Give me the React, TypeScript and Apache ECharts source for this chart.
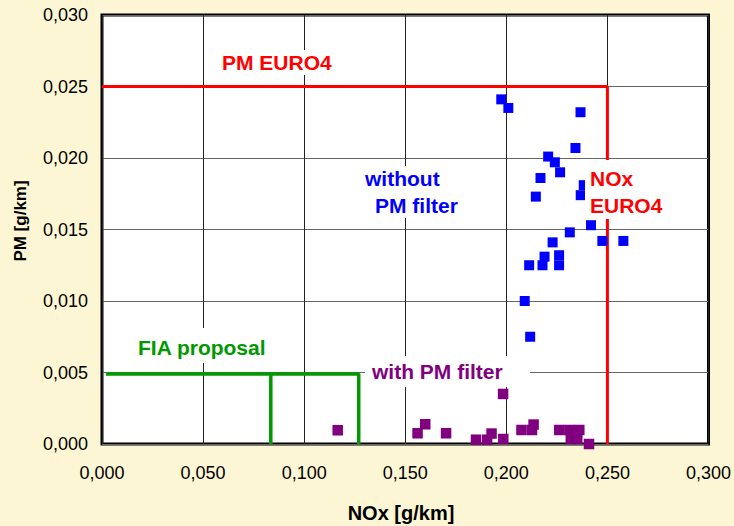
import { useEffect, useRef } from "react";
import * as echarts from "echarts";

// NOx [g/km] / PM [g/km] measurements without PM filter
const withoutFilterNOx = [0.1975, 0.201, 0.2367, 0.2342, 0.2207, 0.224, 0.2266, 0.2169, 0.2146, 0.2383, 0.2368, 0.2314, 0.2419, 0.2475, 0.2579, 0.2229, 0.2189, 0.2113, 0.2179, 0.2261, 0.2261, 0.2091, 0.2118];
const withoutFilterPM = [0.0241, 0.0235, 0.0232, 0.0207, 0.0201, 0.0197, 0.019, 0.0186, 0.0173, 0.0181, 0.0174, 0.0148, 0.0153, 0.0142, 0.0142, 0.0141, 0.0131, 0.0125, 0.0125, 0.0132, 0.0125, 0.01, 0.0075];

// measurements with PM filter
const withFilterNOx = [0.1166, 0.1561, 0.1599, 0.1702, 0.185, 0.1905, 0.1927, 0.1984, 0.1985, 0.2075, 0.2127, 0.2135, 0.2262, 0.2312, 0.2361, 0.2319, 0.2351, 0.2409];
const withFilterPM = [0.00096, 0.00075, 0.00138, 0.00075, 0.0003, 0.0003, 0.00073, 0.0035, 0.00035, 0.00098, 0.00098, 0.00136, 0.00098, 0.00098, 0.00098, 0.00035, 0.00035, 0.0];

// limit lines
const euro4LineNOx = [0, 0.25, 0.25];
const euro4LinePM = [0.025, 0.025, 0];
const fiaOuterNOx = [0.002, 0.127, 0.127];
const fiaOuterPM = [0.0049, 0.0049, 0];
const fiaInnerNOx = [0.0835, 0.0835];
const fiaInnerPM = [0.0049, 0];

// axes
const xAxisRange = [0, 0.3];
const xAxisStep = 0.05;
const yAxisRange = [0, 0.03];
const yAxisStep = 0.005;

const zip = (xs: number[], ys: number[]) => xs.map((x, i) => [x, ys[i]]);
const fmt = (v: number) => v.toFixed(3).replace(".", ",");

const FONT = '"Liberation Sans", Arial, sans-serif';

export default function App() {
  const ref = useRef<HTMLDivElement>(null);

  useEffect(() => {
    if (!ref.current) return;
    const chart = echarts.init(ref.current, undefined, { renderer: "svg" });

    const label = (text: string, x: number, y: number, fill: string, size = 21) => ({
      type: "text",
      x,
      y,
      z: 101,
      style: { text, fill, font: `bold ${size}px ${FONT}`, align: "left", verticalAlign: "middle" },
    });
    const box = (x: number, y: number, width: number, height: number) => ({
      type: "rect",
      z: 100,
      shape: { x, y, width, height },
      style: { fill: "#ffffff" },
    });

    chart.setOption({
      animation: false,
      backgroundColor: "#FDF6D5",
      grid: {
        left: 102,
        top: 15,
        width: 608,
        height: 429,
        show: true,
        backgroundColor: "#ffffff",
        borderColor: "#000000",
        borderWidth: 3,
      },
      xAxis: {
        type: "value",
        min: xAxisRange[0],
        max: xAxisRange[1],
        interval: xAxisStep,
        axisLine: { show: false },
        axisTick: { show: false },
        axisLabel: { formatter: fmt, color: "#000", fontSize: 18, fontFamily: FONT, margin: 20 },
        splitLine: { show: true, lineStyle: { color: "#222", width: 1 } },
      },
      yAxis: {
        type: "value",
        min: yAxisRange[0],
        max: yAxisRange[1],
        interval: yAxisStep,
        axisLine: { show: false },
        axisTick: { show: false },
        axisLabel: { formatter: fmt, color: "#000", fontSize: 18, fontFamily: FONT, margin: 14 },
        splitLine: { show: true, lineStyle: { color: "#666", width: 1 } },
      },
      series: [
        {
          type: "line",
          data: zip(euro4LineNOx, euro4LinePM),
          symbol: "none",
          lineStyle: { color: "#FF0000", width: 3 },
          z: 3,
        },
        {
          type: "line",
          data: zip(fiaOuterNOx, fiaOuterPM),
          symbol: "none",
          lineStyle: { color: "#009900", width: 3.5 },
          z: 3,
        },
        {
          type: "line",
          data: zip(fiaInnerNOx, fiaInnerPM),
          symbol: "none",
          lineStyle: { color: "#009900", width: 3.5 },
          z: 3,
        },
        {
          type: "scatter",
          data: zip(withoutFilterNOx, withoutFilterPM),
          symbol: "rect",
          symbolSize: 10,
          itemStyle: { color: "#0000FF", opacity: 1 },
          z: 4,
        },
        {
          type: "scatter",
          data: zip(withFilterNOx, withFilterPM),
          symbol: "rect",
          symbolSize: 10.5,
          itemStyle: { color: "#800080", opacity: 1 },
          z: 4,
        },
      ],
      graphic: {
        elements: [
          box(216, 50, 122, 25),
          label("PM EURO4", 222, 62, "#FF0000"),
          box(360, 166, 102, 52),
          label("without", 365, 178, "#0000FF"),
          label("PM filter", 375, 205, "#0000FF"),
          box(585, 160, 88, 59),
          label("NOx", 590, 178, "#FF0000"),
          label("EURO4", 590, 205, "#FF0000"),
          box(130, 328, 142, 35),
          label("FIA proposal", 138, 347, "#009900"),
          box(365, 356, 165, 31),
          label("with PM filter", 372, 371, "#800080"),
          {
            type: "text",
            x: 401,
            y: 513,
            z: 101,
            style: { text: "NOx [g/km]", fill: "#000", font: `bold 20px ${FONT}`, align: "center", verticalAlign: "middle" },
          },
          {
            type: "text",
            x: 20,
            y: 221,
            rotation: Math.PI / 2,
            z: 101,
            style: { text: "PM [g/km]", fill: "#000", font: `bold 17px ${FONT}`, align: "center", verticalAlign: "middle" },
          },
        ],
      },
    });

    return () => chart.dispose();
  }, []);

  return (
    <div
      ref={ref}
      style={{ position: "fixed", left: 0, top: 0, width: 734, height: 526 }}
    />
  );
}
